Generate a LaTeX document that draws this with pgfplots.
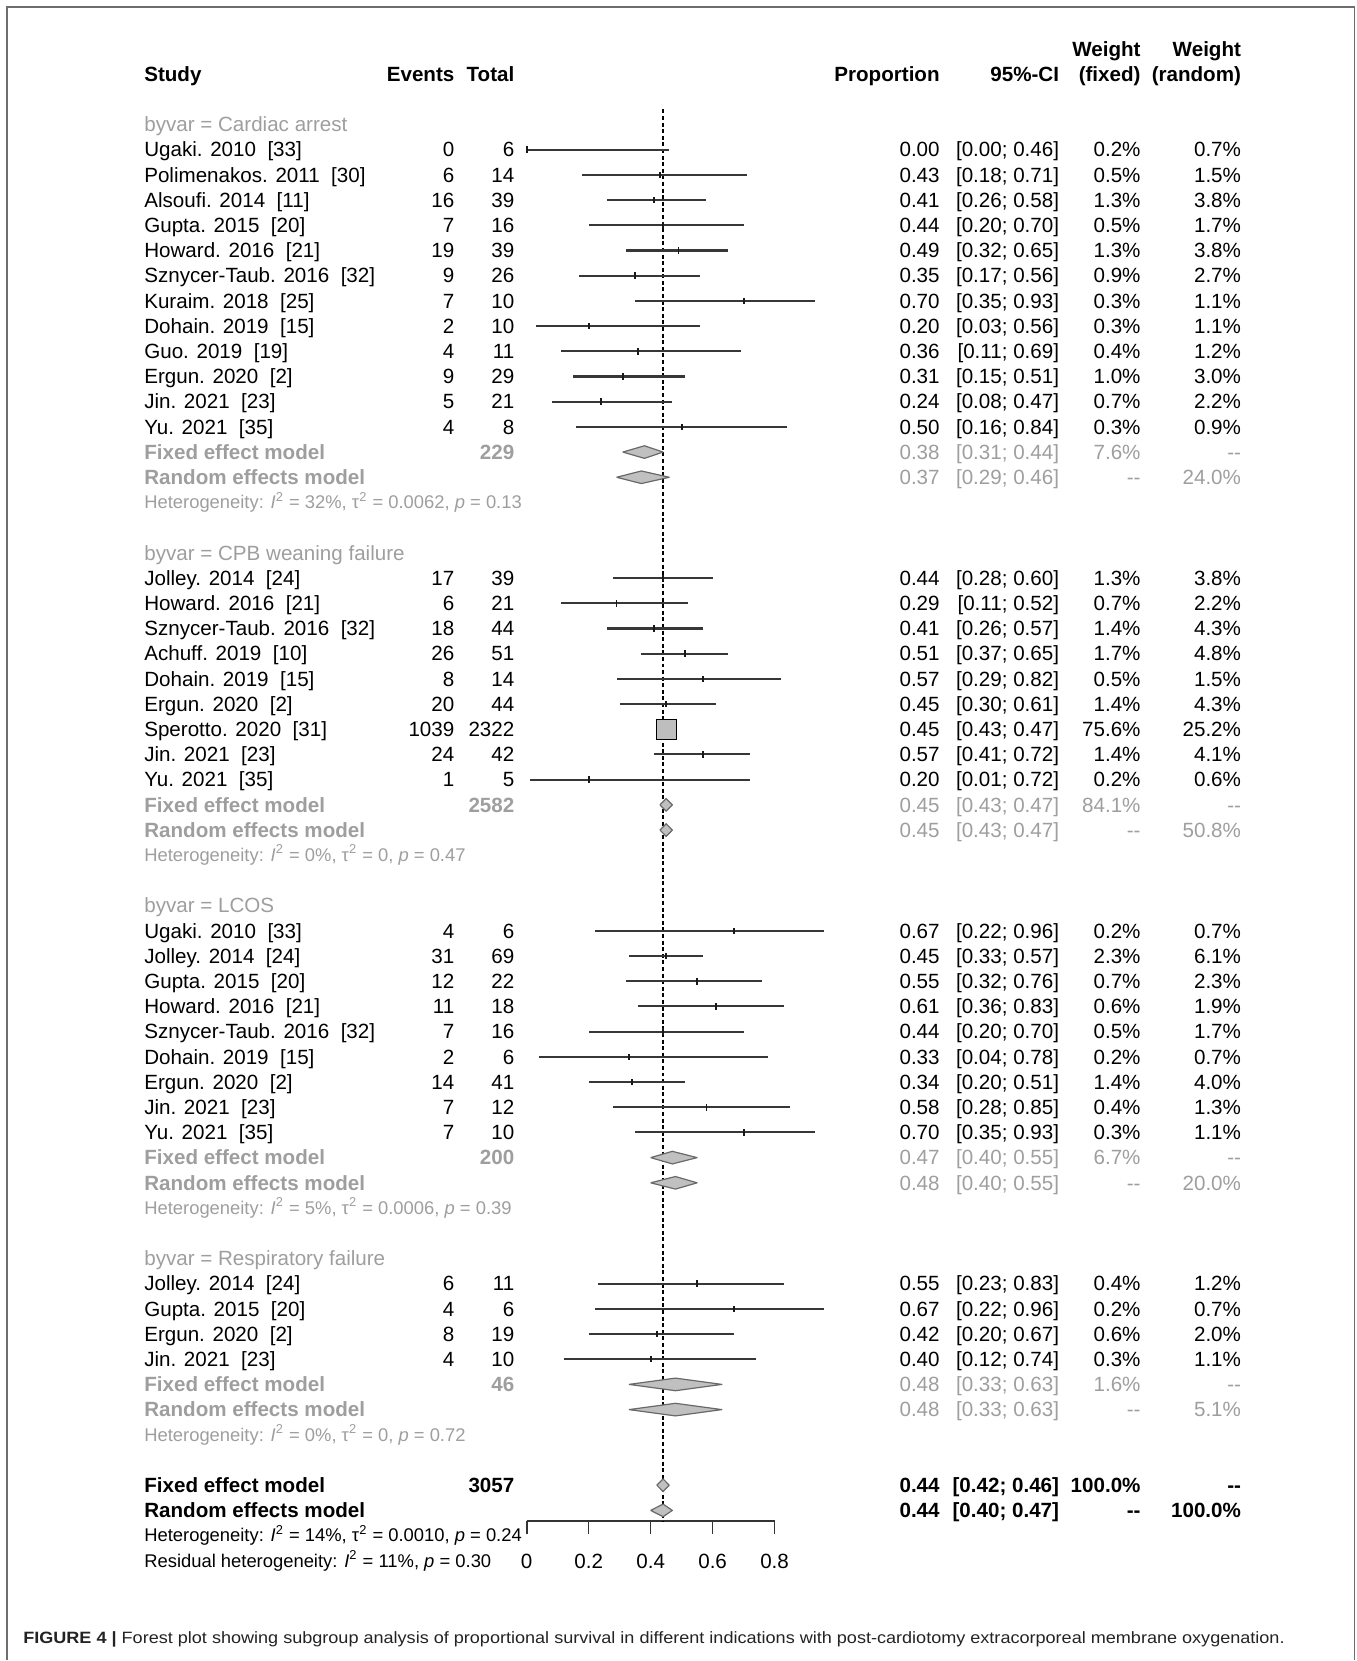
\documentclass[border=0pt]{standalone}
\usepackage{pgfplots}
\pgfplotsset{compat=1.18}
\usepackage{pgfplotstable}
\usepackage{graphicx}
\usepackage{fontspec}
\setmainfont{Liberation Sans}

\definecolor{sub}{RGB}{158,158,158}
\definecolor{ciline}{RGB}{55,55,55}
\definecolor{dfill}{RGB}{192,192,192}
\definecolor{dedge}{RGB}{105,105,105}
\definecolor{sqfill}{RGB}{190,190,190}
\definecolor{framec}{RGB}{110,110,110}
\definecolor{capc}{RGB}{35,35,35}

\newcommand\tf{\fontsize{10.3}{12}\selectfont}
\newcommand\hf{\fontsize{9.2}{10}\selectfont}
\newcommand\cf{\fontsize{8.2}{10}\selectfont}

% horizontal anchors of the text columns, in axis units
\def\uS{-1.2355}
\def\uE{-0.2323}
\def\uT{-0.0387}
\def\uP{1.3339}
\def\uC{1.7194}
\def\uF{1.9823}
\def\uR{2.3065}

\tikzset{
  tl/.style={anchor=base west, inner sep=0pt, yshift=-3.6pt, font=\tf},
  tr/.style={anchor=base east, inner sep=0pt, yshift=-3.6pt, font=\tf},
  diam/.style={fill=dfill, draw=dedge, line width=0.6pt, line join=round},
  nomark/.style={only marks, mark=*, mark size=0pt, mark options={draw=none, fill=none}},
}

% one study line: row, name, ref, events, total, proportion, CI, w(fixed), w(random)
\newcommand\Study[9]{%
  \node[tl] at (axis cs:\uS,-#1) {#2\ \ [#3]};
  \node[tr] at (axis cs:\uE,-#1) {#4};
  \node[tr] at (axis cs:\uT,-#1) {#5};
  \node[tr] at (axis cs:\uP,-#1) {#6};
  \node[tr] at (axis cs:\uC,-#1) {#7};
  \node[tr] at (axis cs:\uF,-#1) {#8\%};
  \node[tr] at (axis cs:\uR,-#1) {#9\%};
}
% subgroup summaries
\newcommand\SubFixed[5]{%
  \node[tl, font=\tf\bfseries, text=sub] at (axis cs:\uS,-#1) {Fixed effect model};
  \node[tr, font=\tf\bfseries, text=sub] at (axis cs:\uT,-#1) {#2};
  \node[tr, text=sub] at (axis cs:\uP,-#1) {#3};
  \node[tr, text=sub] at (axis cs:\uC,-#1) {#4};
  \node[tr, text=sub] at (axis cs:\uF,-#1) {#5\%};
  \node[tr, text=sub] at (axis cs:\uR,-#1) {-{}-};
}
\newcommand\SubRandom[4]{%
  \node[tl, font=\tf\bfseries, text=sub] at (axis cs:\uS,-#1) {Random effects model};
  \node[tr, text=sub] at (axis cs:\uP,-#1) {#2};
  \node[tr, text=sub] at (axis cs:\uC,-#1) {#3};
  \node[tr, text=sub] at (axis cs:\uF,-#1) {-{}-};
  \node[tr, text=sub] at (axis cs:\uR,-#1) {#4\%};
}
\newcommand\het[3]{Heterogeneity: \textit{I}\textsuperscript{2} = #1\%, τ\textsuperscript{2} = #2, \textit{p} = #3}

% individual studies: row, proportion, lower and upper 95% limits
\pgfplotstableread{
row p lo hi
3 0.00 0.00 0.46
4 0.43 0.18 0.71
5 0.41 0.26 0.58
6 0.44 0.20 0.70
7 0.49 0.32 0.65
8 0.35 0.17 0.56
9 0.70 0.35 0.93
10 0.20 0.03 0.56
11 0.36 0.11 0.69
12 0.31 0.15 0.51
13 0.24 0.08 0.47
14 0.50 0.16 0.84
20 0.44 0.28 0.60
21 0.29 0.11 0.52
22 0.41 0.26 0.57
23 0.51 0.37 0.65
24 0.57 0.29 0.82
25 0.45 0.30 0.61
27 0.57 0.41 0.72
28 0.20 0.01 0.72
34 0.67 0.22 0.96
35 0.45 0.33 0.57
36 0.55 0.32 0.76
37 0.61 0.36 0.83
38 0.44 0.20 0.70
39 0.33 0.04 0.78
40 0.34 0.20 0.51
41 0.58 0.28 0.85
42 0.70 0.35 0.93
48 0.55 0.23 0.83
49 0.67 0.22 0.96
50 0.42 0.20 0.67
51 0.40 0.12 0.74
}\studies

\begin{document}
\begin{tikzpicture}
\begin{axis}[
  scale only axis, width=124pt, height=706.27pt,
  xmin=0, xmax=0.8, ymin=-57.43, ymax=-1.4,
  axis x line=bottom, axis y line=none,
  x axis line style={-, line width=0.8pt, black!80},
  xtick={0,0.2,0.4,0.6,0.8}, minor tick num=0,
  tick align=outside, major tick length=6.5pt,
  every tick/.style={black!80, line width=0.8pt},
  xticklabel style={font=\tf, inner sep=0pt, yshift=-10pt},
  /pgf/number format/assume math mode=true,
  clip=false,
]
% page extent and frame
\path (axis cs:-1.7,-62.945) rectangle (axis cs:2.6774,2.9413);
\draw[framec, line width=0.8pt] (axis cs:-1.6774,-62.945) -- (axis cs:-1.6774,2.6636)
  -- (axis cs:2.6710,2.6636) -- (axis cs:2.6710,-62.945);

% overall estimate reference line
\addplot[black, line width=0.8pt, dash pattern=on 2pt off 1.3pt] coordinates {(0.44,-1.4) (0.44,-57.43)};

% confidence intervals
\addplot[nomark, error bars/.cd, x dir=both, x explicit, error mark=none,
  error bar style={line width=1.05pt, draw=ciline}]
  table[x=p, y expr=-\thisrow{row}, x error plus expr=\thisrow{hi}-\thisrow{p},
        x error minus expr=\thisrow{p}-\thisrow{lo}] {\studies};
% point estimates as short vertical ticks
\addplot[nomark, error bars/.cd, y dir=both, y fixed=0.13, error mark=none,
  error bar style={line width=0.9pt, draw=black!90}]
  table[x=p, y expr=-\thisrow{row}] {\studies};
% the large study (weight 75.6%)
\addplot[only marks, mark=square*, mark size=5pt, mark options={fill=sqfill, draw=none}]
  coordinates {(0.45,-26)};
\addplot[white, line width=0.9pt] coordinates {(0.43,-26) (0.47,-26)};

% pooled estimates
\addplot[diam] coordinates {(0.31,-15) (0.38,-14.75) (0.44,-15) (0.38,-15.25) (0.31,-15)};
\addplot[diam] coordinates {(0.29,-16) (0.37,-15.75) (0.46,-16) (0.37,-16.25) (0.29,-16)};
\addplot[diam] coordinates {(0.43,-29) (0.45,-28.75) (0.47,-29) (0.45,-29.25) (0.43,-29)};
\addplot[diam] coordinates {(0.43,-30) (0.45,-29.75) (0.47,-30) (0.45,-30.25) (0.43,-30)};
\addplot[diam] coordinates {(0.40,-43) (0.47,-42.75) (0.55,-43) (0.47,-43.25) (0.40,-43)};
\addplot[diam] coordinates {(0.40,-44) (0.48,-43.75) (0.55,-44) (0.48,-44.25) (0.40,-44)};
\addplot[diam] coordinates {(0.33,-52) (0.48,-51.75) (0.63,-52) (0.48,-52.25) (0.33,-52)};
\addplot[diam] coordinates {(0.33,-53) (0.48,-52.75) (0.63,-53) (0.48,-53.25) (0.33,-53)};
\addplot[diam] coordinates {(0.42,-56) (0.44,-55.75) (0.46,-56) (0.44,-56.25) (0.42,-56)};
\addplot[diam] coordinates {(0.40,-57) (0.44,-56.75) (0.47,-57) (0.44,-57.25) (0.40,-57)};

% column headers
\node[tl, font=\tf\bfseries] at (axis cs:\uS,0) {Study};
\node[tr, font=\tf\bfseries] at (axis cs:\uE,0) {Events};
\node[tr, font=\tf\bfseries] at (axis cs:\uT,0) {Total};
\node[tr, font=\tf\bfseries] at (axis cs:\uP,0) {Proportion};
\node[tr, font=\tf\bfseries] at (axis cs:\uC,0) {95\%-CI};
\node[tr, font=\tf\bfseries] at (axis cs:\uF,1) {Weight};
\node[tr, font=\tf\bfseries] at (axis cs:\uF,0) {(fixed)};
\node[tr, font=\tf\bfseries] at (axis cs:\uR,1) {Weight};
\node[tr, font=\tf\bfseries] at (axis cs:\uR,0) {(random)};

% Cardiac arrest
\node[tl, text=sub] at (axis cs:\uS,-2) {byvar = Cardiac arrest};
\Study{3}{Ugaki. 2010}{33}{0}{6}{0.00}{[0.00; 0.46]}{0.2}{0.7}
\Study{4}{Polimenakos. 2011}{30}{6}{14}{0.43}{[0.18; 0.71]}{0.5}{1.5}
\Study{5}{Alsoufi. 2014}{11}{16}{39}{0.41}{[0.26; 0.58]}{1.3}{3.8}
\Study{6}{Gupta. 2015}{20}{7}{16}{0.44}{[0.20; 0.70]}{0.5}{1.7}
\Study{7}{Howard. 2016}{21}{19}{39}{0.49}{[0.32; 0.65]}{1.3}{3.8}
\Study{8}{Sznycer-Taub. 2016}{32}{9}{26}{0.35}{[0.17; 0.56]}{0.9}{2.7}
\Study{9}{Kuraim. 2018}{25}{7}{10}{0.70}{[0.35; 0.93]}{0.3}{1.1}
\Study{10}{Dohain. 2019}{15}{2}{10}{0.20}{[0.03; 0.56]}{0.3}{1.1}
\Study{11}{Guo. 2019}{19}{4}{11}{0.36}{[0.11; 0.69]}{0.4}{1.2}
\Study{12}{Ergun. 2020}{2}{9}{29}{0.31}{[0.15; 0.51]}{1.0}{3.0}
\Study{13}{Jin. 2021}{23}{5}{21}{0.24}{[0.08; 0.47]}{0.7}{2.2}
\Study{14}{Yu. 2021}{35}{4}{8}{0.50}{[0.16; 0.84]}{0.3}{0.9}
\SubFixed{15}{229}{0.38}{[0.31; 0.44]}{7.6}
\SubRandom{16}{0.37}{[0.29; 0.46]}{24.0}
\node[tl, font=\hf, text=sub, yshift=0.4pt] at (axis cs:\uS,-17) {\het{32}{0.0062}{0.13}};

% CPB weaning failure
\node[tl, text=sub] at (axis cs:\uS,-19) {byvar = CPB weaning failure};
\Study{20}{Jolley. 2014}{24}{17}{39}{0.44}{[0.28; 0.60]}{1.3}{3.8}
\Study{21}{Howard. 2016}{21}{6}{21}{0.29}{[0.11; 0.52]}{0.7}{2.2}
\Study{22}{Sznycer-Taub. 2016}{32}{18}{44}{0.41}{[0.26; 0.57]}{1.4}{4.3}
\Study{23}{Achuff. 2019}{10}{26}{51}{0.51}{[0.37; 0.65]}{1.7}{4.8}
\Study{24}{Dohain. 2019}{15}{8}{14}{0.57}{[0.29; 0.82]}{0.5}{1.5}
\Study{25}{Ergun. 2020}{2}{20}{44}{0.45}{[0.30; 0.61]}{1.4}{4.3}
\Study{26}{Sperotto. 2020}{31}{1039}{2322}{0.45}{[0.43; 0.47]}{75.6}{25.2}
\Study{27}{Jin. 2021}{23}{24}{42}{0.57}{[0.41; 0.72]}{1.4}{4.1}
\Study{28}{Yu. 2021}{35}{1}{5}{0.20}{[0.01; 0.72]}{0.2}{0.6}
\SubFixed{29}{2582}{0.45}{[0.43; 0.47]}{84.1}
\SubRandom{30}{0.45}{[0.43; 0.47]}{50.8}
\node[tl, font=\hf, text=sub, yshift=0.4pt] at (axis cs:\uS,-31) {\het{0}{0}{0.47}};

% LCOS
\node[tl, text=sub] at (axis cs:\uS,-33) {byvar = LCOS};
\Study{34}{Ugaki. 2010}{33}{4}{6}{0.67}{[0.22; 0.96]}{0.2}{0.7}
\Study{35}{Jolley. 2014}{24}{31}{69}{0.45}{[0.33; 0.57]}{2.3}{6.1}
\Study{36}{Gupta. 2015}{20}{12}{22}{0.55}{[0.32; 0.76]}{0.7}{2.3}
\Study{37}{Howard. 2016}{21}{11}{18}{0.61}{[0.36; 0.83]}{0.6}{1.9}
\Study{38}{Sznycer-Taub. 2016}{32}{7}{16}{0.44}{[0.20; 0.70]}{0.5}{1.7}
\Study{39}{Dohain. 2019}{15}{2}{6}{0.33}{[0.04; 0.78]}{0.2}{0.7}
\Study{40}{Ergun. 2020}{2}{14}{41}{0.34}{[0.20; 0.51]}{1.4}{4.0}
\Study{41}{Jin. 2021}{23}{7}{12}{0.58}{[0.28; 0.85]}{0.4}{1.3}
\Study{42}{Yu. 2021}{35}{7}{10}{0.70}{[0.35; 0.93]}{0.3}{1.1}
\SubFixed{43}{200}{0.47}{[0.40; 0.55]}{6.7}
\SubRandom{44}{0.48}{[0.40; 0.55]}{20.0}
\node[tl, font=\hf, text=sub, yshift=0.4pt] at (axis cs:\uS,-45) {\het{5}{0.0006}{0.39}};

% Respiratory failure
\node[tl, text=sub] at (axis cs:\uS,-47) {byvar = Respiratory failure};
\Study{48}{Jolley. 2014}{24}{6}{11}{0.55}{[0.23; 0.83]}{0.4}{1.2}
\Study{49}{Gupta. 2015}{20}{4}{6}{0.67}{[0.22; 0.96]}{0.2}{0.7}
\Study{50}{Ergun. 2020}{2}{8}{19}{0.42}{[0.20; 0.67]}{0.6}{2.0}
\Study{51}{Jin. 2021}{23}{4}{10}{0.40}{[0.12; 0.74]}{0.3}{1.1}
\SubFixed{52}{46}{0.48}{[0.33; 0.63]}{1.6}
\SubRandom{53}{0.48}{[0.33; 0.63]}{5.1}
\node[tl, font=\hf, text=sub, yshift=0.4pt] at (axis cs:\uS,-54) {\het{0}{0}{0.72}};

% overall
\node[tl, font=\tf\bfseries] at (axis cs:\uS,-56) {Fixed effect model};
\node[tr, font=\tf\bfseries] at (axis cs:\uT,-56) {3057};
\node[tr, font=\tf\bfseries] at (axis cs:\uP,-56) {0.44};
\node[tr, font=\tf\bfseries] at (axis cs:\uC,-56) {[0.42; 0.46]};
\node[tr, font=\tf\bfseries] at (axis cs:\uF,-56) {100.0\%};
\node[tr, font=\tf\bfseries] at (axis cs:\uR,-56) {-{}-};
\node[tl, font=\tf\bfseries] at (axis cs:\uS,-57) {Random effects model};
\node[tr, font=\tf\bfseries] at (axis cs:\uP,-57) {0.44};
\node[tr, font=\tf\bfseries] at (axis cs:\uC,-57) {[0.40; 0.47]};
\node[tr, font=\tf\bfseries] at (axis cs:\uF,-57) {-{}-};
\node[tr, font=\tf\bfseries] at (axis cs:\uR,-57) {100.0\%};
\node[tl, font=\hf, yshift=0.4pt] at (axis cs:\uS,-58) {\het{14}{0.0010}{0.24}};
\node[tl, font=\hf, yshift=0.4pt] at (axis cs:\uS,-59) {Residual heterogeneity: \textit{I}\textsuperscript{2} = 11\%, \textit{p} = 0.30};

% caption
\node[anchor=base west, inner sep=0pt, yshift=-2.9pt, font=\cf, text=capc] at (axis cs:-1.626,-62.07)
  {\resizebox{631pt}{\height}{\textbf{FIGURE 4 |} Forest plot showing subgroup analysis of proportional survival in different indications with post-cardiotomy extracorporeal membrane oxygenation.}};
\end{axis}
\end{tikzpicture}
\end{document}
